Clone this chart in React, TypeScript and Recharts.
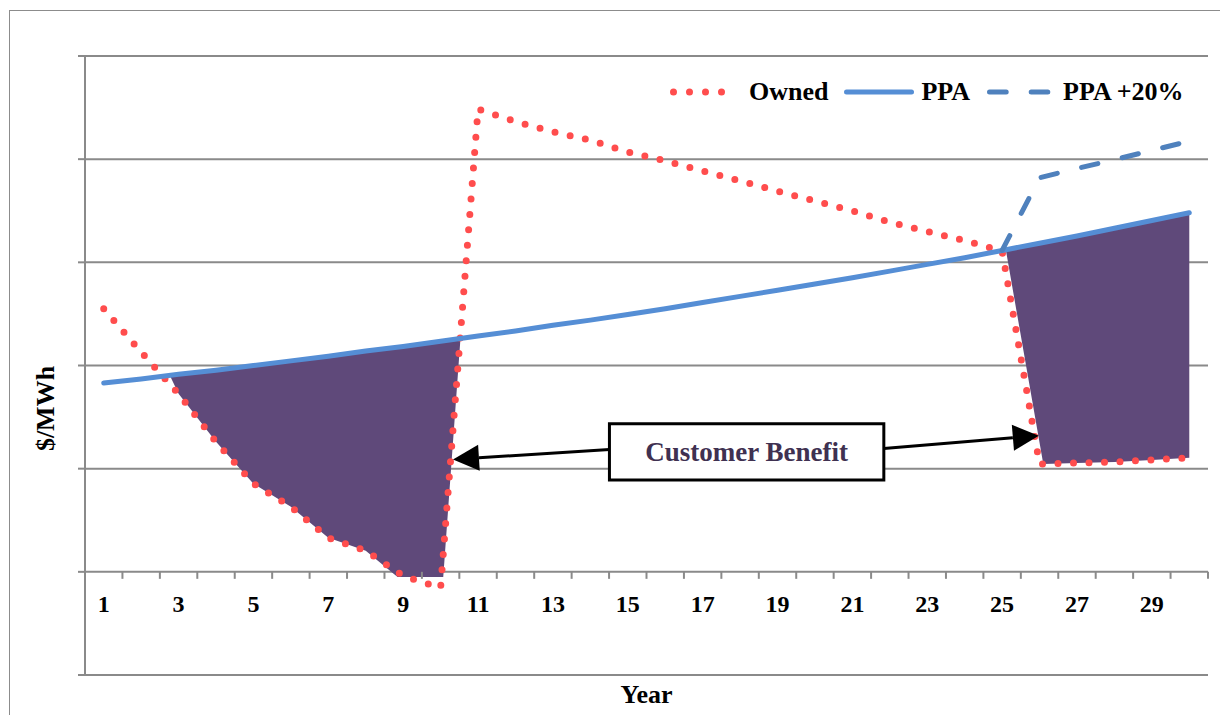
import {
  Area,
  CartesianGrid,
  ComposedChart,
  Label,
  Legend,
  Line,
  ReferenceArea,
  ReferenceLine,
  XAxis,
  YAxis,
} from "recharts";

const FONT = '"Liberation Serif", "Times New Roman", serif';
const OWNED_RED = "#ff4d4d";
const PPA_BLUE = "#558ed5";
const PPA_DASH_BLUE = "#4f81bd";
const BENEFIT_PURPLE = "#5f497a";
const GRID_GRAY = "#8a8a8a";
const BOX_TEXT = "#3f3151";

// values ($/MWh, axis has no printed numbers)
const years = [
  1, 2, 3, 4, 5, 6, 7, 8, 9, 10, 11, 12, 13, 14, 15, 16, 17, 18, 19, 20, 21,
  22, 23, 24, 25, 26, 27, 28, 29, 30,
];
const owned = [
  51.0, 42.6, 34.5, 25.2, 17.1, 12.6, 6.6, 4.1, -0.8, -3.1, 89.7, 87.3, 85.3,
  83.7, 81.4, 79.7, 77.7, 75.8, 73.8, 71.9, 70.0, 67.8, 66.0, 64.2, 62.2, 20.9,
  21.1, 21.3, 21.7, 22.1,
];
const ppa = [
  36.6, 37.4, 38.3, 39.1, 40.0, 40.9, 41.8, 42.8, 43.7, 44.7, 45.7, 46.7, 47.8,
  48.8, 49.9, 51.0, 52.2, 53.4, 54.6, 55.8, 57.0, 58.3, 59.6, 60.9, 62.3, 63.7,
  65.1, 66.6, 68.1, 69.6,
];
const ppaPlusYears = [25, 26, 27, 28, 29, 30];
const ppaPlus = [62.3, 76.4, 78.2, 79.9, 81.7, 83.5];

// shaded "customer benefit" regions (outline vertices as seen in the picture)
const benefitEarlyYears = [2.77, 3, 4, 5, 6, 7, 8, 8.85, 10.07, 10.53];
const benefitEarlyLow = [38.0, 34.5, 25.2, 17.1, 12.6, 6.6, 4.1, -1.0, -1.0, 45.2];
const benefitEarlyHigh = [38.0, 38.3, 39.1, 40.0, 40.9, 41.8, 42.8, 43.6, 44.7, 45.2];
const benefitLateYears = [25.1, 26.1, 27, 28, 29, 30];
const benefitLateLow = [62.4, 20.9, 21.1, 21.3, 21.7, 22.1];
const benefitLateHigh = [62.4, 63.8, 65.1, 66.6, 68.1, 69.6];

const yTicks = [-20, 0, 20, 40, 60, 80, 100];
const yearLabels = [1, 3, 5, 7, 9, 11, 13, 15, 17, 19, 21, 23, 25, 27, 29];

// annotation box + arrows, in data units
const BOX = { x1: 14.51, x2: 21.84, y1: 17.8, y2: 28.7 };
const ARROW_LEFT = [
  { x: 14.51, y: 23.7 },
  { x: 10.33, y: 21.8 },
];
const ARROW_RIGHT = [
  { x: 21.84, y: 23.9 },
  { x: 25.98, y: 26.4 },
];

const CHART_W = 1220;
const CHART_H = 707;
const MARGIN = { top: 48, right: 20, bottom: 0, left: 17 };
const Y_AXIS_W = 60;
const X_AXIS_H = 40;
const PLOT_H = CHART_H - MARGIN.top - MARGIN.bottom - X_AXIS_H;
const Y_MIN = yTicks[0];
const Y_MAX = yTicks[yTicks.length - 1];
// the category axis sits on the zero line, not the bottom of the plot
const ZERO_SHIFT = (PLOT_H * (0 - Y_MIN)) / (Y_MAX - Y_MIN);

const ownedData = years.map((year, i) => ({ year, value: owned[i] }));
const ppaData = years.map((year, i) => ({ year, value: ppa[i] }));
const ppaPlusData = ppaPlusYears.map((year, i) => ({ year, value: ppaPlus[i] }));
const benefitEarly = benefitEarlyYears.map((year, i) => ({
  year,
  range: [benefitEarlyLow[i], benefitEarlyHigh[i]],
}));
const benefitLate = benefitLateYears.map((year, i) => ({
  year,
  range: [benefitLateLow[i], benefitLateHigh[i]],
}));
const xTicks = [...yearLabels, ...years.map((y) => y + 0.5)].sort(
  (a, b) => a - b,
);

function YearTick({ x, y, payload }: any) {
  const v = payload?.value as number;
  const zeroY = y - ZERO_SHIFT;
  if (v % 1 !== 0) {
    return (
      <line
        x1={x}
        x2={x}
        y1={zeroY}
        y2={zeroY + 7}
        stroke={GRID_GRAY}
        strokeWidth={2}
      />
    );
  }
  return (
    <text
      x={x}
      y={zeroY + 40}
      textAnchor="middle"
      fontFamily={FONT}
      fontWeight={700}
      fontSize={24}
      fill="#000"
    >
      {v}
    </text>
  );
}

function BlankTick() {
  return <g />;
}

function YearLabel({ viewBox }: any) {
  const { x, y, width, height } = viewBox;
  return (
    <text
      x={x + width / 2}
      y={y + height - 12}
      textAnchor="middle"
      fontFamily={FONT}
      fontWeight={700}
      fontSize={26}
      fill="#000"
    >
      Year
    </text>
  );
}

function PriceLabel({ viewBox }: any) {
  const { x, y, height } = viewBox;
  const cx = x + 20;
  const cy = y + height / 2 + 43;
  return (
    <text
      x={cx}
      y={cy}
      transform={`rotate(-90, ${cx}, ${cy})`}
      textAnchor="middle"
      dominantBaseline="central"
      fontFamily={FONT}
      fontWeight={700}
      fontSize={26}
      fill="#000"
    >
      $/MWh
    </text>
  );
}

function ArrowShape({ x1, y1, x2, y2 }: any) {
  const ang = Math.atan2(y2 - y1, x2 - x1);
  const len = 26;
  const half = 13;
  const bx = x2 - len * Math.cos(ang);
  const by = y2 - len * Math.sin(ang);
  const px = -Math.sin(ang) * half;
  const py = Math.cos(ang) * half;
  return (
    <g>
      <line x1={x1} y1={y1} x2={bx} y2={by} stroke="#000" strokeWidth={3} />
      <polygon
        points={`${x2},${y2} ${bx + px},${by + py} ${bx - px},${by - py}`}
        fill="#000"
      />
    </g>
  );
}

function ChartLegend() {
  return (
    <div
      style={{
        display: "flex",
        alignItems: "center",
        height: 30,
        whiteSpace: "nowrap",
        fontFamily: FONT,
        fontWeight: 700,
        fontSize: 26,
        color: "#000",
      }}
    >
      <svg width={71} height={12}>
        <line
          x1={3.5}
          y1={6}
          x2={67.5}
          y2={6}
          stroke={OWNED_RED}
          strokeWidth={7}
          strokeLinecap="round"
          strokeDasharray="0 16"
        />
      </svg>
      <span style={{ marginLeft: 8, marginRight: 14 }}>Owned</span>
      <svg width={74} height={12}>
        <line
          x1={4.5}
          y1={6}
          x2={69.5}
          y2={6}
          stroke={PPA_BLUE}
          strokeWidth={5}
          strokeLinecap="round"
        />
      </svg>
      <span style={{ marginLeft: 5, marginRight: 13 }}>PPA</span>
      <svg width={70} height={12}>
        <line
          x1={6.5}
          y1={6}
          x2={64.8}
          y2={6}
          stroke={PPA_DASH_BLUE}
          strokeWidth={5}
          strokeLinecap="round"
          strokeDasharray="16.7 25"
        />
      </svg>
      <span style={{ marginLeft: 10 }}>PPA +20%</span>
    </div>
  );
}

export default function App() {
  return (
    <div
      style={{
        position: "relative",
        width: CHART_W,
        height: CHART_H,
        overflow: "hidden",
        background: "#fff",
      }}
    >
      <div
        style={{
          position: "absolute",
          left: 1,
          top: 2,
          width: 1400,
          height: 1000,
          border: "1.5px solid #8c8c8c",
        }}
      />
      <div style={{ position: "absolute", left: 0, top: 0 }}>
        <ComposedChart width={CHART_W} height={CHART_H} margin={MARGIN}>
          <CartesianGrid
            vertical={false}
            stroke={GRID_GRAY}
            strokeWidth={2}
          />
          <XAxis
            dataKey="year"
            type="number"
            domain={[0.5, 30.5]}
            ticks={xTicks}
            interval={0}
            height={X_AXIS_H}
            axisLine={false}
            tickLine={false}
            tickSize={0}
            tickMargin={0}
            tick={<YearTick />}
          >
            <Label content={<YearLabel />} />
          </XAxis>
          <YAxis
            type="number"
            domain={[Y_MIN, Y_MAX]}
            ticks={yTicks}
            interval={0}
            width={Y_AXIS_W}
            tick={<BlankTick />}
            tickSize={7}
            tickLine={{ stroke: GRID_GRAY, strokeWidth: 2 }}
            axisLine={{ stroke: GRID_GRAY, strokeWidth: 2 }}
          >
            <Label content={<PriceLabel />} />
          </YAxis>
          <Legend
            layout="horizontal"
            verticalAlign="middle"
            align="center"
            content={<ChartLegend />}
            wrapperStyle={{ top: 69, left: 662, width: 560, height: 30 }}
          />
          <Area
            data={benefitEarly}
            dataKey="range"
            type="linear"
            stroke="none"
            fill={BENEFIT_PURPLE}
            fillOpacity={1}
            isAnimationActive={false}
            legendType="none"
          />
          <Area
            data={benefitLate}
            dataKey="range"
            type="linear"
            stroke="none"
            fill={BENEFIT_PURPLE}
            fillOpacity={1}
            isAnimationActive={false}
            legendType="none"
          />
          <Line
            data={ownedData}
            dataKey="value"
            name="Owned"
            type="linear"
            stroke={OWNED_RED}
            strokeWidth={7}
            strokeLinecap="round"
            strokeDasharray="0 15.5"
            dot={false}
            isAnimationActive={false}
          />
          <Line
            data={ppaData}
            dataKey="value"
            name="PPA"
            type="linear"
            stroke={PPA_BLUE}
            strokeWidth={5}
            strokeLinecap="round"
            dot={false}
            isAnimationActive={false}
          />
          <Line
            data={ppaPlusData}
            dataKey="value"
            name="PPA +20%"
            type="linear"
            stroke={PPA_DASH_BLUE}
            strokeWidth={5}
            strokeLinecap="round"
            strokeDasharray="16.7 25"
            dot={false}
            isAnimationActive={false}
          />
          <ReferenceLine segment={ARROW_LEFT} shape={<ArrowShape />} />
          <ReferenceLine segment={ARROW_RIGHT} shape={<ArrowShape />} />
          <ReferenceArea
            x1={BOX.x1}
            x2={BOX.x2}
            y1={BOX.y1}
            y2={BOX.y2}
            fill="#fff"
            fillOpacity={1}
            stroke="#000"
            strokeWidth={3}
          >
            <Label
              value="Customer Benefit"
              position="center"
              fill={BOX_TEXT}
              fontFamily={FONT}
              fontWeight={700}
              fontSize={27}
            />
          </ReferenceArea>
        </ComposedChart>
      </div>
    </div>
  );
}
